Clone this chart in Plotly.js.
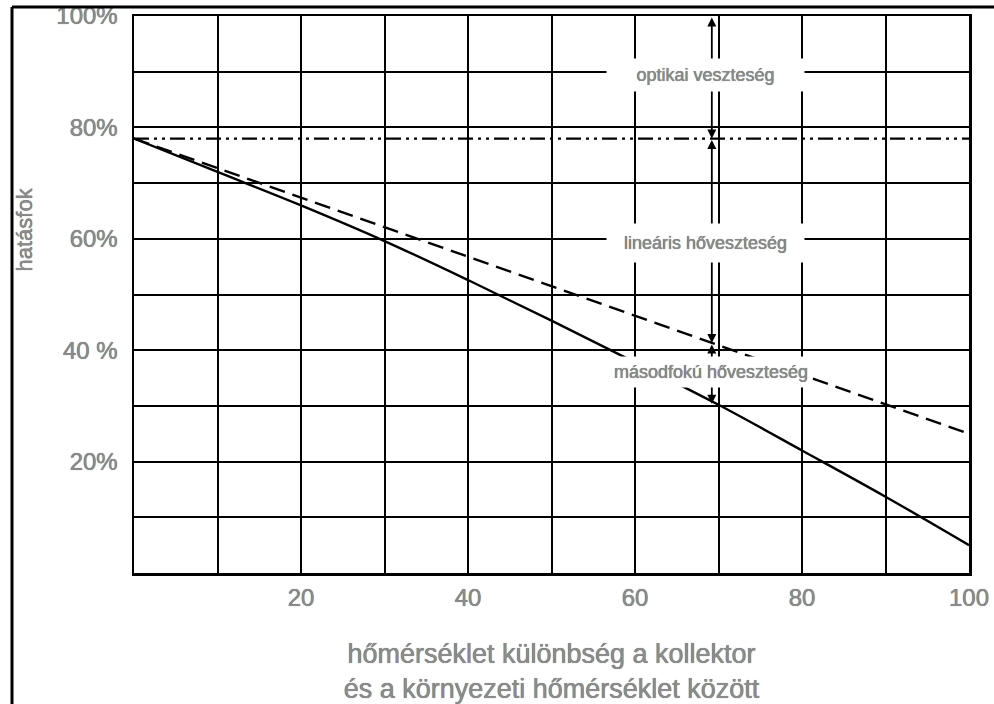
<!DOCTYPE html>
<html>
<head>
<meta charset="utf-8">
<script src="https://cdn.plot.ly/plotly-3.0.1.min.js"></script>
<style>html,body{margin:0;padding:0;background:#fff;}#chart{width:994px;height:704px;}</style>
</head>
<body>
<div id="chart"></div>
<script>
// ---- data ----
const tempDiff = [0, 10, 20, 30, 40, 50, 60, 70, 80, 90, 100];
const efficiencyQuadratic = [78, 72, 66, 59.6, 52.6, 45.3, 37.8, 30.2, 22, 13.7, 5];
const linearX = [0, 100];
const efficiencyLinear = [78, 25];
const opticalX = [0, 100];
const efficiencyOptical = [78, 78];

const xTickVals = [0, 10, 20, 30, 40, 50, 60, 70, 80, 90, 100];
const xTickText = ['', '', '20', '', '40', '', '60', '', '80', '', '100'];
const yTickVals = [0, 10, 20, 30, 40, 50, 60, 70, 80, 90, 100];
const yTickText = ['', '', '20%', '', '40 %', '', '60%', '', '80%', '', '100%'];

const lossX = 69.2;
const lossLevels = [100, 78, 41.3, 30.4];
const lossLabels = ['optikai veszteség', 'lineáris hőveszteség', 'másodfokú hőveszteség'];
const lossLabelX = [68.4, 68.4, 69.1];
const lossLabelY = [89.4, 59.2, 36.1];

const xTitle = 'hőmérséklet különbség a kollektor<br>és a környezeti hőmérséklet között';
const yTitle = 'hatásfok';

// ---- chart ----
const textGray = '#8c8c8c';
const outline = '0 0 0.7px #404040';
const traces = [
  {x: opticalX, y: efficiencyOptical, mode: 'lines', line: {color: '#000', width: 2.2, dash: '15px,5px,3px,5px,3px,5px'}, hoverinfo: 'skip'},
  {x: linearX, y: efficiencyLinear, mode: 'lines', line: {color: '#000', width: 2.4, dash: '16px,8px'}, hoverinfo: 'skip'},
  {x: tempDiff, y: efficiencyQuadratic, mode: 'lines', line: {color: '#000', width: 2.4, shape: 'spline', smoothing: 1}, hoverinfo: 'skip'}
];

const annotations = [];
for (let i = 0; i < lossLevels.length - 1; i++) {
  annotations.push({
    x: lossX, y: lossLevels[i + 1], ax: lossX, ay: lossLevels[i],
    xref: 'x', yref: 'y', axref: 'x', ayref: 'y',
    text: '', showarrow: true, arrowside: 'end+start',
    arrowhead: 2, arrowsize: 1, arrowwidth: 1.8, arrowcolor: '#000',
    standoff: 0, startstandoff: 0
  });
}
const boxW = [195, 195, 200];
const boxH = [30, 36, 28];
for (let i = 0; i < lossLabels.length; i++) {
  annotations.push({
    x: lossLabelX[i], y: lossLabelY[i], xref: 'x', yref: 'y',
    text: lossLabels[i], showarrow: false,
    bgcolor: '#fff', width: boxW[i], height: boxH[i],
    font: {size: 18, color: textGray, shadow: outline}
  });
}
annotations.push({
  x: -0.131, y: 0.616, xref: 'paper', yref: 'paper',
  xanchor: 'center', yanchor: 'middle',
  text: yTitle, showarrow: false, textangle: -90,
  font: {size: 22, color: textGray, shadow: outline}
});

const layout = {
  width: 994, height: 704,
  margin: {l: 134, r: 25, t: 16, b: 131},
  paper_bgcolor: '#fff', plot_bgcolor: '#fff',
  showlegend: false,
  font: {family: 'Liberation Sans, Arial, sans-serif', color: textGray, size: 24},
  xaxis: {
    range: [0, 100], tickvals: xTickVals, ticktext: xTickText,
    showgrid: true, gridcolor: '#000', gridwidth: 2,
    showline: true, linecolor: '#000', linewidth: 2.5, mirror: true,
    zeroline: false, ticks: '', ticklabelstandoff: 2,
    tickfont: {size: 24, color: textGray, shadow: outline},
    title: {text: xTitle, font: {size: 27, color: textGray, shadow: outline}}
  },
  yaxis: {
    range: [0, 100], tickvals: yTickVals, ticktext: yTickText,
    showgrid: true, gridcolor: '#000', gridwidth: 2,
    showline: true, linecolor: '#000', linewidth: 2.5, mirror: true,
    zeroline: false, ticks: '', ticklabelstandoff: 9,
    tickfont: {size: 24, color: textGray, shadow: outline}
  },
  annotations: annotations,
  shapes: [
    {type: 'line', xref: 'paper', yref: 'paper', x0: -0.1461, x1: 1.05, y0: 1.0162, y1: 1.0162, line: {color: '#000', width: 3}},
    {type: 'line', xref: 'paper', yref: 'paper', x0: -0.1461, x1: -0.1461, y0: 1.0162, y1: -0.26, line: {color: '#000', width: 3}}
  ]
};

Plotly.newPlot('chart', traces, layout, {staticPlot: true, displayModeBar: false});
</script>
</body>
</html>
